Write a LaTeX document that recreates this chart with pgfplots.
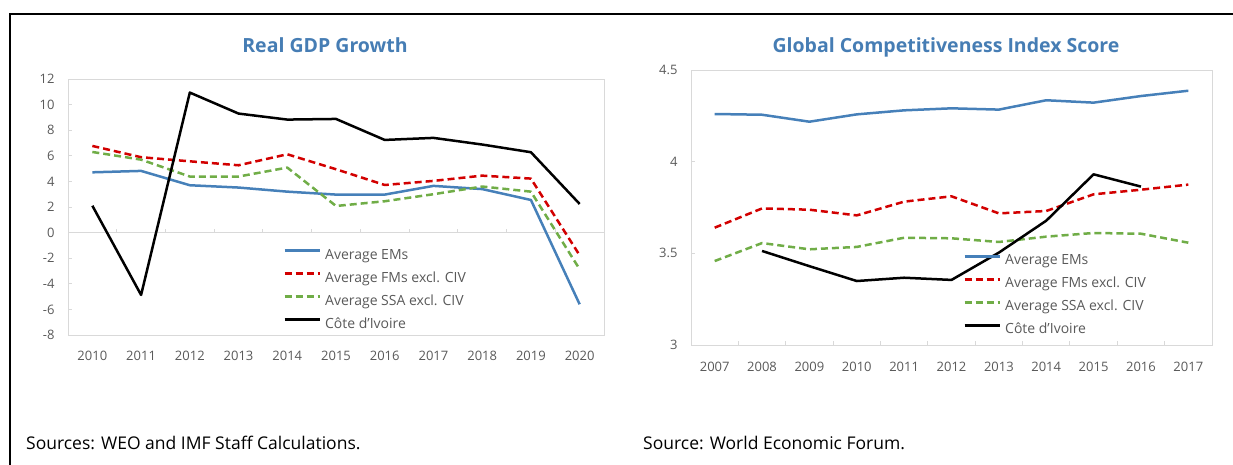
\documentclass[border=0pt]{standalone}
\usepackage{fontspec}
\setmainfont{Open Sans}
\usepackage{pgfplots}
\pgfplotsset{compat=1.18}
\definecolor{emblue}{RGB}{70,128,185}
\definecolor{fmred}{RGB}{210,0,0}
\definecolor{ssagreen}{RGB}{112,173,71}
\definecolor{titleblue}{RGB}{70,125,180}
\definecolor{ticktext}{RGB}{89,89,89}
\definecolor{framegray}{RGB}{217,217,217}
\pgfplotsset{
  legend image code/.code={\draw[#1, line width=3pt] (0pt,5pt) -- (35pt,5pt);},
  mystyle/.style={
    scale only axis,
    anchor=south west,
    axis line style={framegray, line width=1pt},
    tick style={framegray, line width=1pt},
    tick align=inside,
    major tick length=4pt,
    major x tick style={draw=none},
    xtick pos=bottom, ytick pos=left,
    xmin=-0.5, xmax=10.5,
    xtick={0,...,10},
    font=\fontsize{13}{15}\selectfont,
    tick label style={text=ticktext, font=\fontsize{13}{15}\selectfont},
    yticklabel style={xshift=-10pt},
    /pgf/number format/assume math mode=true,
    clip=false,
    legend cell align=left,
    legend style={draw=none, fill=none, inner sep=0pt, row sep=6.5pt,
      font=\fontsize{14}{17}\selectfont, text=ticktext,
      nodes={inner sep=1pt, text height=11pt, text depth=3.5pt},
      /tikz/every odd column/.append style={column sep=3pt},
      /tikz/every even column/.append style={column sep=0pt}},
  },
  em/.style={emblue, line width=2.5pt, line join=round},
  fm/.style={fmred, line width=2.5pt, line join=round, dash pattern=on 7pt off 4pt},
  ssa/.style={ssagreen, line width=2.5pt, line join=round, dash pattern=on 7pt off 4pt},
  civ/.style={black, line width=2.5pt, line join=round},
}
\begin{document}
\begin{tikzpicture}
\path[use as bounding box] (0pt,0pt) rectangle (1233pt,-464pt);
\draw[line width=2.2pt] (10pt,-465pt) -- (10pt,-14pt) -- (1234pt,-14pt);
% Left chart
\begin{axis}[mystyle,
  at={(68pt,-335pt)}, width=536pt, height=256pt,
  ymin=-8, ymax=12, ytick={-8,-6,...,12},
  xticklabels={2010,2011,2012,2013,2014,2015,2016,2017,2018,2019,2020},
  xticklabel style={yshift=-13pt},
  legend style={at={(0.401,0.343)}, anchor=north west},
]
\draw[framegray, line width=1pt] (axis cs:-0.5,0) -- (axis cs:10.5,0);
\pgfplotsinvokeforeach{0.5,1.5,...,9.5}{\draw[framegray, line width=1pt] (axis cs:#1,0) -- ++(0pt,4pt);}
\addplot[em] coordinates {(0,4.71) (1,4.82) (2,3.70) (3,3.52) (4,3.20) (5,2.97) (6,2.97) (7,3.65) (8,3.40) (9,2.55) (10,-5.60)};
\addlegendentry{Average EMs}
\addplot[fm] coordinates {(0,6.77) (1,5.89) (2,5.57) (3,5.26) (4,6.12) (5,4.95) (6,3.72) (7,4.04) (8,4.45) (9,4.22) (10,-1.77)};
\addlegendentry{Average FMs excl. CIV}
\addplot[ssa] coordinates {(0,6.30) (1,5.70) (2,4.38) (3,4.38) (4,5.08) (5,2.08) (6,2.45) (7,3.00) (8,3.60) (9,3.20) (10,-2.86)};
\addlegendentry{Average SSA excl. CIV}
\addplot[civ] coordinates {(0,2.10) (1,-4.87) (2,10.94) (3,9.30) (4,8.83) (5,8.88) (6,7.24) (7,7.40) (8,6.88) (9,6.28) (10,2.24)};
\addlegendentry{Côte d'Ivoire}
\end{axis}
% Right chart
\begin{axis}[mystyle,
  at={(691pt,-345pt)}, width=521pt, height=275pt,
  ymin=3, ymax=4.5, ytick={3,3.5,4,4.5},
  xticklabels={2007,2008,2009,2010,2011,2012,2013,2014,2015,2016,2017},
  xticklabel style={yshift=-14pt},
  legend style={at={(0.522,0.336)}, anchor=north west},
]
\pgfplotsinvokeforeach{0.5,1.5,...,9.5}{\draw[framegray, line width=1pt] (axis cs:#1,3) -- ++(0pt,4pt);}
\addplot[em] coordinates {(0,4.260) (1,4.256) (2,4.218) (3,4.258) (4,4.280) (5,4.291) (6,4.284) (7,4.335) (8,4.322) (9,4.358) (10,4.387)};
\addlegendentry{Average EMs}
\addplot[fm] coordinates {(0,3.640) (1,3.745) (2,3.738) (3,3.707) (4,3.782) (5,3.811) (6,3.718) (7,3.731) (8,3.822) (9,3.847) (10,3.875)};
\addlegendentry{Average FMs excl. CIV}
\addplot[ssa] coordinates {(0,3.458) (1,3.556) (2,3.522) (3,3.535) (4,3.585) (5,3.582) (6,3.562) (7,3.591) (8,3.611) (9,3.607) (10,3.558)};
\addlegendentry{Average SSA excl. CIV}
\addplot[civ] coordinates {(1,3.513) (2,3.430) (3,3.349) (4,3.367) (5,3.355) (6,3.504) (7,3.678) (8,3.931) (9,3.864)};
\addlegendentry{Côte d'Ivoire}
\end{axis}
% Titles
\node[anchor=base, text=titleblue, font=\fontsize{19.5}{22}\selectfont\bfseries] at (325pt,-52pt) {Real GDP Growth};
\node[anchor=base, text=titleblue, font=\fontsize{19.5}{22}\selectfont\bfseries] at (946pt,-52pt) {Global Competitiveness Index Score};
% Sources
\node[anchor=base west, inner sep=0pt, font=\fontsize{17.5}{20}\selectfont] at (26pt,-449pt) {Sources: WEO and IMF Staff Calculations.};
\node[anchor=base west, inner sep=0pt, font=\fontsize{17.5}{20}\selectfont] at (643pt,-449pt) {Source: World Economic Forum.};
\end{tikzpicture}
\end{document}
